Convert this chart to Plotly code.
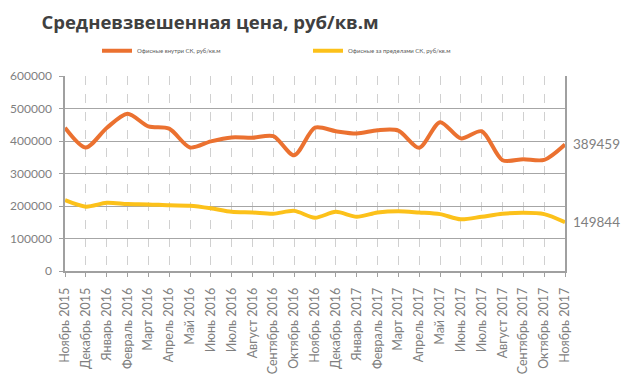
import plotly.graph_objects as go

categories = ["Ноябрь 2015", "Декабрь 2015", "Январь 2016", "Февраль 2016", "Март 2016",
              "Апрель 2016", "Май 2016", "Июнь 2016", "Июль 2016", "Август 2016",
              "Сентябрь 2016", "Октябрь 2016", "Ноябрь 2016", "Декабрь 2016", "Январь 2017",
              "Февраль 2017", "Март 2017", "Апрель 2017", "Май 2017", "Июнь 2017",
              "Июль 2017", "Август 2017", "Сентябрь 2017", "Октябрь 2017", "Ноябрь 2017"]

inside_sk = [441000, 380000, 440000, 484000, 445000, 438000, 380000, 399000, 411000, 410000,
             415000, 356000, 441000, 430000, 423000, 433000, 432000, 379000, 458000, 408000,
             430000, 341000, 344000, 342000, 389459]

outside_sk = [218000, 198000, 210000, 206000, 205000, 202000, 201000, 193000, 182000, 180000,
              176000, 185000, 164000, 182000, 167000, 180000, 184000, 180000, 175000, 159000,
              167000, 176000, 179000, 175000, 149844]

series_names = ["Офисные внутри СК, руб/кв.м", "Офисные за пределами СК, руб/кв.м"]
y_ticks = [0, 100000, 200000, 300000, 400000, 500000, 600000]

x = list(range(len(categories)))
gray = "#7f7f7f"

fig = go.Figure()
fig.add_trace(go.Scatter(x=x, y=inside_sk, name=series_names[0], mode="lines",
                         line=dict(color="#EB7130", width=4, shape="spline", smoothing=0.8)))
fig.add_trace(go.Scatter(x=x, y=outside_sk, name=series_names[1], mode="lines",
                         line=dict(color="#FCC11A", width=4, shape="spline", smoothing=0.8)))

for vals in (inside_sk, outside_sk):
    fig.add_annotation(xref="paper", x=1, y=vals[-1], text=str(vals[-1]), showarrow=False,
                       xanchor="left", xshift=6,
                       font=dict(size=13.5, color=gray, family="Lato, Open Sans, sans-serif"))

fig.update_layout(
    width=628, height=378,
    margin=dict(l=65, r=63, t=76, b=107),
    paper_bgcolor="white", plot_bgcolor="white",
    title=dict(text="<b>Средневзвешенная цена, руб/кв.м</b>", x=0.066, xanchor="left",
               y=0.94, yanchor="middle",
               font=dict(size=18.5, color="#404040", family="Open Sans, sans-serif")),
    legend=dict(orientation="h", x=0.064, xanchor="left", y=1.13, yanchor="middle",
                font=dict(size=6, color="#595959", family="Lato, sans-serif"),
                entrywidth=166, entrywidthmode="pixels", itemwidth=30,
                bgcolor="rgba(0,0,0,0)"),
    showlegend=True,
)

fig.update_xaxes(
    range=[0, len(categories) - 1], tickmode="array", tickvals=x, ticktext=categories,
    tickangle=-90, tickfont=dict(size=12.5, color=gray, family="Lato, sans-serif"),
    showgrid=True, gridcolor="#d0d0d0", griddash="dash", gridwidth=1,
    showline=True, linecolor="#a0a0a0", linewidth=1.5, automargin=False,
    ticks="outside", ticklen=4, tickcolor="#a0a0a0", zeroline=False,
    ticklabelstandoff=6,
)
fig.update_yaxes(
    range=[0, 600000], tickvals=y_ticks, ticktext=[str(v) for v in y_ticks],
    tickfont=dict(size=12, color=gray, family="Lato, sans-serif"),
    showgrid=True, gridcolor="#a6a6a6", gridwidth=1, automargin=False,
    showline=True, linecolor="#a0a0a0", linewidth=1.5, mirror=True,
    ticks="outside", ticklen=4, tickcolor="#a0a0a0", zeroline=False,
    ticklabelstandoff=5,
)

fig.write_html("out.html", config={"displayModeBar": False},
               post_script="document.body.style.margin='0';")
